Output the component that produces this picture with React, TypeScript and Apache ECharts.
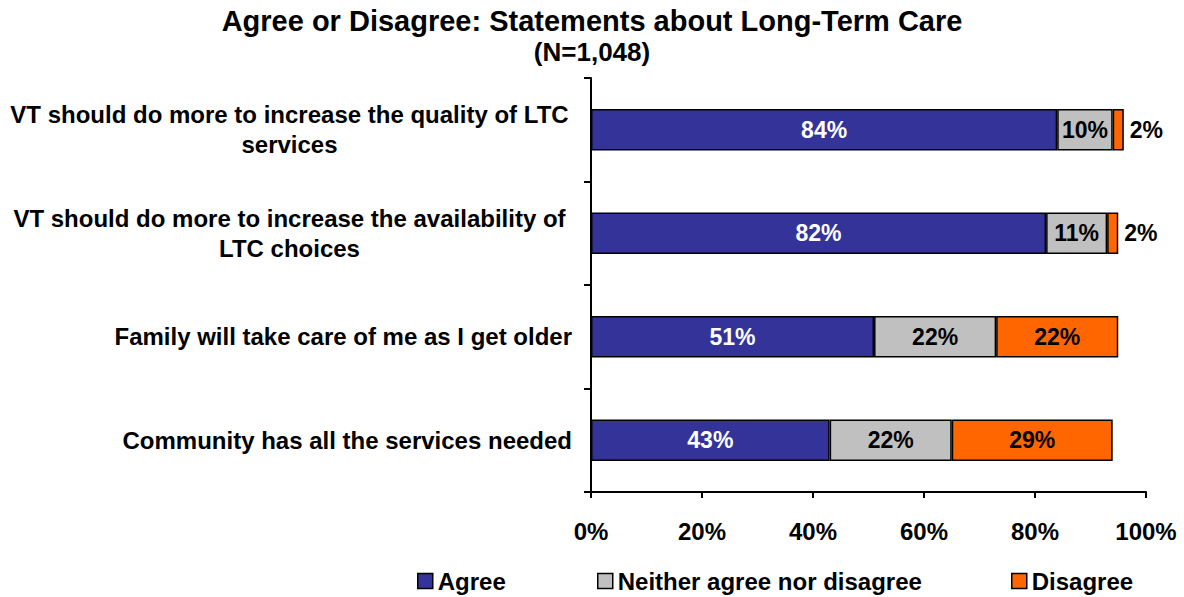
import React, { useEffect, useRef } from "react";
import * as echarts from "echarts";

const categories = [
  "VT should do more to increase the quality of LTC\nservices",
  "VT should do more to increase the availability of\nLTC choices",
  "Family will take care of me as I get older",
  "Community has all the services needed",
];
const agree = [84, 82, 51, 43];
const neither = [10, 11, 22, 22];
const disagree = [2, 2, 22, 29];
const seriesNames = ["Agree", "Neither agree nor disagree", "Disagree"];
const colors = ["#333399", "#C0C0C0", "#FF6600"];
const FONT = "'Liberation Sans', Arial, sans-serif";

export default function App() {
  const ref = useRef<HTMLDivElement>(null);
  useEffect(() => {
    if (!ref.current) return;
    const chart = echarts.init(ref.current, null, { renderer: "svg" });
    const labelBase = {
      show: true,
      fontFamily: FONT,
      fontWeight: "bold" as const,
      fontSize: 23,
      formatter: "{c}%",
    };
    const mk = (name: string, data: number[], color: string, labelColor: string, idx: number) => ({
      name,
      type: "bar",
      stack: "total",
      barWidth: "40%",
      itemStyle: { color, borderColor: "#000", borderWidth: 1.5 },
      label: { ...labelBase, color: labelColor, position: "inside" },
      data: data.map((v) =>
        idx === 2 && v < 5
          ? { value: v, label: { position: "right", distance: 6, color: "#000" } }
          : v
      ),
    });
    const legend = (name: string, left: number) => ({
      data: [name],
      left,
      top: 569,
      padding: 0,
      itemWidth: 15,
      itemHeight: 15,
      icon: "rect",
      itemStyle: { borderColor: "#000", borderWidth: 1.5 },
      textStyle: { fontFamily: FONT, fontWeight: "bold", fontSize: 24, color: "#000" },
      selectedMode: false,
    });
    chart.setOption({
      animation: false,
      backgroundColor: "#fff",
      title: [
        {
          text: "Agree or Disagree: Statements about Long-Term Care",
          left: "center",
          top: 6,
          padding: 0,
          textStyle: { fontFamily: FONT, fontWeight: "bold", fontSize: 29, color: "#000" },
        },
        {
          text: "(N=1,048)",
          left: "center",
          top: 39,
          padding: 0,
          textStyle: { fontFamily: FONT, fontWeight: "bold", fontSize: 26, color: "#000" },
        },
      ],
      legend: [
        legend(seriesNames[0], 417),
        legend(seriesNames[1], 597),
        legend(seriesNames[2], 1011),
      ],
      grid: { left: 591, right: 38, top: 78, bottom: 105, containLabel: false },
      xAxis: {
        type: "value",
        min: 0,
        max: 100,
        interval: 20,
        axisLine: { show: true, lineStyle: { color: "#000", width: 2 } },
        axisTick: { show: true, length: 6, lineStyle: { color: "#000", width: 2 } },
        splitLine: { show: false },
        axisLabel: {
          formatter: "{value}%",
          margin: 27,
          fontFamily: FONT,
          fontWeight: "bold",
          fontSize: 24,
          color: "#000",
        },
      },
      yAxis: {
        type: "category",
        inverse: true,
        data: categories,
        axisLine: { show: true, lineStyle: { color: "#000", width: 2 } },
        axisTick: { show: true, length: 7, lineStyle: { color: "#000", width: 2 } },
        axisLabel: {
          margin: 19,
          color: "#000",
          fontFamily: FONT,
          fontWeight: "bold",
          fontSize: 24,
          lineHeight: 30,
          formatter: (v: string) =>
            v.includes("\n")
              ? v.split("\n").map((l) => `{c|${l}}`).join("\n")
              : v,
          rich: {
            c: {
              width: 565,
              align: "center",
              fontFamily: FONT,
              fontWeight: "bold",
              fontSize: 24,
              lineHeight: 30,
              color: "#000",
            },
          },
        },
      },
      series: [
        mk(seriesNames[0], agree, colors[0], "#fff", 0),
        mk(seriesNames[1], neither, colors[1], "#000", 1),
        mk(seriesNames[2], disagree, colors[2], "#000", 2),
      ],
    });
    return () => chart.dispose();
  }, []);
  return (
    <div
      ref={ref}
      style={{ position: "fixed", left: 0, top: 0, width: 1184, height: 597, background: "#fff" }}
    />
  );
}
